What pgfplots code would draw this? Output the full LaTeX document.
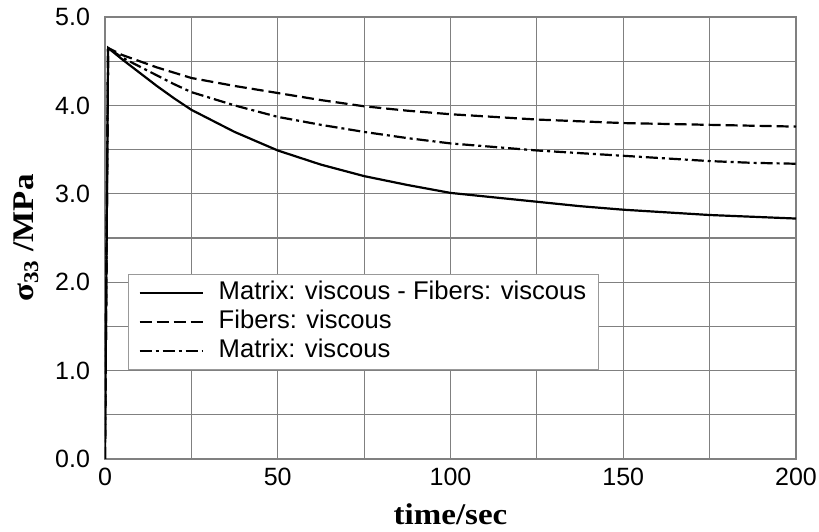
\documentclass[border=0pt]{standalone}
\usepackage{fontspec}
\setmainfont{Liberation Sans}
\newfontfamily\labelfont[FakeStretch=1.1]{Liberation Serif}
\usepackage{pgfplots}
\pgfplotsset{compat=1.18}
\usetikzlibrary{calc}

% creep curves
\pgfplotstableread{
t    s
0    0
0.9  4.65
5    4.52
10   4.37
15   4.22
20   4.08
25   3.95
37.5 3.70
50   3.49
62.5 3.33
75   3.20
87.5 3.10
100  3.01
112.5 2.96
125  2.91
137.5 2.86
150  2.82
162.5 2.79
175  2.76
187.5 2.74
200  2.72
}\bothdata
\pgfplotstableread{
t    s
0    0
0.9  4.65
5    4.57
10   4.50
15   4.43
20   4.37
25   4.31
37.5 4.22
50   4.14
62.5 4.06
75   3.99
87.5 3.94
100  3.90
112.5 3.87
125  3.84
137.5 3.82
150  3.80
162.5 3.79
175  3.78
187.5 3.77
200  3.76
}\fiberdata
\pgfplotstableread{
t    s
0    0
0.9  4.65
5    4.54
10   4.44
15   4.34
20   4.24
25   4.15
37.5 4.00
50   3.87
62.5 3.78
75   3.70
87.5 3.63
100  3.57
112.5 3.53
125  3.49
137.5 3.46
150  3.43
162.5 3.40
175  3.37
187.5 3.35
200  3.34
}\matrixdata

\begin{document}
\begin{tikzpicture}
\begin{axis}[
  scale only axis, width=345.5pt, height=221pt,
  xmin=0, xmax=200, ymin=0, ymax=5,
  xtick={0,50,100,150,200}, minor xtick={25,75,125,175},
  ytick={0,1,2,3,4,5}, minor ytick={0.5,1.5,2.5,3.5,4.5},
  grid=both,
  major grid style={black!50, line width=0.6pt},
  minor grid style={black!50, line width=0.6pt},
  axis line style={black!50, line width=0.6pt},
  major tick length=0pt, minor tick length=0pt,
  tick label style={font=\fontsize{12.5}{14}\selectfont},
  /pgf/number format/assume math mode=true,
  yticklabel style={/pgf/number format/fixed, /pgf/number format/zerofill,
    /pgf/number format/precision=1, xshift=-4pt},
  xticklabel style={yshift=-1.2pt},
  xlabel={\labelfont\bfseries time/sec},
  xlabel style={font=\fontsize{15}{17}\selectfont, at={(axis description cs:0.5,-0.149)}, anchor=base},
  ylabel={\labelfont\bfseries σ\textsubscript{33} /MPa},
  ylabel style={font=\fontsize{15}{17}\selectfont, at={(axis description cs:-0.114,0.5)}, anchor=center},
  legend style={at={(axis description cs:0.0333,0.418)}, anchor=north west,
    draw=black!40, line width=0.5pt, fill=white,
    font=\fontsize{12.8}{15}\selectfont,
    inner xsep=5pt, inner ysep=2.5pt, row sep=1pt,
    nodes={inner sep=1pt, text height=9pt, text depth=2.5pt}},
  legend cell align=left,
  legend image code/.code={\path (0pt,0pt) (38pt,0pt);
    \draw[#1] (0pt,0pt) -- (31.7pt,0pt);},
]
\addplot[black, line width=1.1pt] table[x=t, y=s] {\bothdata};
\addlegendentry{Matrix: viscous - Fibers: viscous\hspace{2pt}}
\addplot[black, line width=1.1pt, dash pattern=on 6pt off 2.5pt] table[x=t, y=s] {\fiberdata};
\addlegendentry{Fibers: viscous}
\addplot[black, line width=1.1pt, dash pattern=on 6pt off 2pt on 1.5pt off 2pt] table[x=t, y=s] {\matrixdata};
\addlegendentry{Matrix: viscous}
\end{axis}
\pgfresetboundingbox
\path ($(current axis.south west)+(-52.5pt,-36.5pt)$) rectangle ($(current axis.north east)+(11.5pt,8.5pt)$);
\end{tikzpicture}
\end{document}
